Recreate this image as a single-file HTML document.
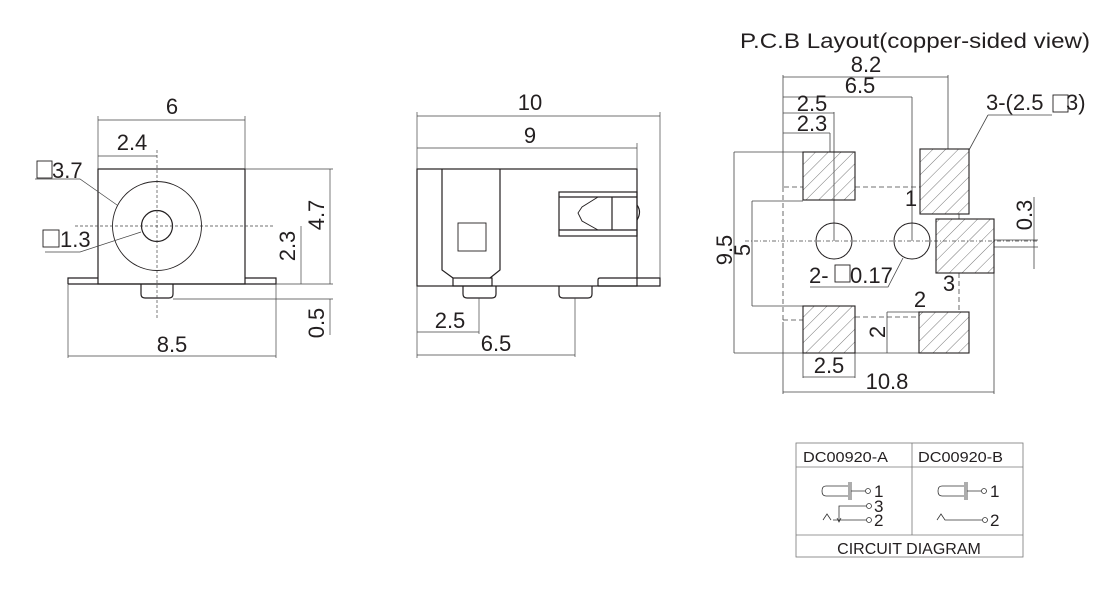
<!DOCTYPE html>
<html><head><meta charset="utf-8"><style>
html,body{margin:0;padding:0;background:#fff;}
svg{display:block;}
text{font-family:"Liberation Sans",Arial,sans-serif;fill:#231f20;}
</style></head><body>
<svg width="1120" height="590" viewBox="0 0 1120 590" xmlns="http://www.w3.org/2000/svg">
<defs>
<pattern id="h" patternUnits="userSpaceOnUse" width="9" height="9" patternTransform="rotate(45)">
<line x1="0" y1="0" x2="0" y2="9" stroke="#555" stroke-width="0.8"/>
</pattern>
</defs>
<g stroke="#231f20" fill="none" stroke-width="1.2">
<rect x="98" y="169" width="147" height="115"/>
<path d="M68 284 V278 H98 M245 278 H276 V284 H68"/>
<path d="M141 284 V294 Q141 298 145 298 H169 Q173 298 173 294 V284"/>
<circle cx="157" cy="226" r="44.5" stroke-width="0.9"/>
<circle cx="157" cy="226" r="15.5"/>
</g>
<g stroke="#444" fill="none" stroke-width="0.7">
<path d="M75 226 H275" stroke-dasharray="3,2"/>
<path d="M157 150 V318" stroke-dasharray="3,2"/>
<path d="M98 116 V169 M245 116 V169 M98 120 H245 M98 156 H157"/>
<path d="M245 169 H333 M330 169 V284 M276 284 H333 M301 226 V284 M173 299 H333 M330 299 V335 M68 284 V358 M276 284 V358 M68 356 H276"/>
<path d="M35 179 H80 L117 205 M45 252 H80 L141 232"/>
</g>
<g font-size="22">
<text x="172" y="114" text-anchor="middle">6</text>
<text x="132" y="150" text-anchor="middle">2.4</text>
<text x="52" y="178">3.7</text>
<text x="60" y="247">1.3</text>
<text x="172" y="352" text-anchor="middle">8.5</text>
<text transform="translate(324,215) rotate(-90)" text-anchor="middle">4.7</text>
<text transform="translate(295,246) rotate(-90)" text-anchor="middle">2.3</text>
<text transform="translate(324,323) rotate(-90)" text-anchor="middle">0.5</text>
</g>
<g stroke="#231f20" fill="none" stroke-width="0.9">
<rect x="37" y="161" width="15" height="17"/>
<rect x="43" y="230" width="16" height="17"/>
</g>

<g stroke="#231f20" fill="none" stroke-width="1.2">
<rect x="417" y="169" width="220" height="117"/>
<path d="M442 169 V270 L453 278 M500 169 V270 L490 278"/>
<rect x="453" y="278" width="39" height="8"/>
<rect x="458" y="223" width="28" height="28" stroke-width="0.9"/>
<rect x="559" y="192" width="78" height="44"/>
<path d="M559 197 H637 M559 230 H637 M612 197 V230"/>
<path d="M598 197 L582 207 L578 213 L582 221 L598 230" stroke-width="0.9"/>
<path d="M637 205 Q642 212 637 220"/>
<path d="M598 286 V280 Q598 278 600 278 H660 V286 H598"/>
<path d="M463 286 V294 Q463 298 467 298 H492 Q496 298 496 294 V286"/>
<path d="M559 286 V294 Q559 298 563 298 H588 Q592 298 592 294 V286"/>
</g>
<g stroke="#444" fill="none" stroke-width="0.7">
<path d="M417 112 V169 M660 112 V278 M417 116 H660 M637 143 V169 M417 148 H637"/>
<path d="M417 286 V358 M479 298 V334 M417 332 H479 M575 298 V357 M417 355 H575"/>
</g>
<g font-size="22">
<text x="530" y="110" text-anchor="middle">10</text>
<text x="530" y="143" text-anchor="middle">9</text>
<text x="450" y="328" text-anchor="middle">2.5</text>
<text x="496" y="351" text-anchor="middle">6.5</text>
</g>

<text x="740" y="48" font-size="21" textLength="350" lengthAdjust="spacingAndGlyphs">P.C.B Layout(copper-sided view)</text>
<g stroke="#444" fill="none" stroke-width="0.8">
<path d="M784 187 H803 M855 187 H920 M783 187 V322 M783 320 H803 M855 317 H919 M959 273 V312" stroke-dasharray="5,3"/>
<path d="M745 241 H1037" stroke-dasharray="4,2,1,2"/>
<path d="M959 214 V219"/>
<path d="M783 75 V187 M783 322 V394 M783 77 H948 M948 75 V149 M783 97 H912 M912 97 V241 M783 113 H834 M834 112 V241 M783 133 H830 M830 133 V152"/>
<path d="M734 152 H803 M734 353 H919 M734 152 V353 M752 201 H803 M752 306 H803 M752 201 V306"/>
<path d="M994 240 H1038 M994 247 H1038 M1034 197 V269"/>
<path d="M887 312 H919 M887 312 V353"/>
<path d="M803 353 V378 M855 353 V378 M803 377 H855 M994 273 V394 M783 392 H994"/>
<path d="M810 287 H888 L903 258 M988 115 H1052 M988 115 L969 150"/>
</g>
<g stroke="#231f20" stroke-width="1.1" fill="url(#h)">
<rect x="803" y="152" width="52" height="48"/>
<rect x="920" y="149" width="49" height="65"/>
<rect x="936" y="219" width="58" height="54"/>
<rect x="803" y="306" width="52" height="47"/>
<rect x="919" y="312" width="50" height="41"/>
</g>
<g stroke="#231f20" fill="none" stroke-width="1">
<circle cx="834" cy="241" r="18"/>
<circle cx="912" cy="241" r="18"/>
<rect x="835" y="265" width="15" height="17" stroke-width="0.9"/>
<rect x="1053" y="95" width="15" height="17" stroke-width="0.9"/>
</g>
<g font-size="22">
<text x="866" y="72" text-anchor="middle">8.2</text>
<text x="860" y="93" text-anchor="middle">6.5</text>
<text x="812" y="111" text-anchor="middle">2.5</text>
<text x="812" y="131" text-anchor="middle">2.3</text>
<text x="911" y="206" text-anchor="middle">1</text>
<text x="949" y="291" text-anchor="middle">3</text>
<text x="920" y="307" text-anchor="middle">2</text>
<text x="809" y="283">2-</text>
<text x="850" y="283">0.17</text>
<text x="986" y="110">3-(2.5</text>
<text x="1066" y="110">3)</text>
<text x="829" y="373" text-anchor="middle">2.5</text>
<text x="887" y="389" text-anchor="middle">10.8</text>
<text transform="translate(732,250) rotate(-90)" text-anchor="middle">9.5</text>
<text transform="translate(750,250) rotate(-90)" text-anchor="middle">5</text>
<text transform="translate(1032,215) rotate(-90)" text-anchor="middle">0.3</text>
<text transform="translate(885,332) rotate(-90)" text-anchor="middle">2</text>
</g>

<g stroke="#777" fill="none" stroke-width="0.8">
<rect x="796" y="443" width="227" height="114"/>
<path d="M796 467 H1023 M796 535 H1023 M912 443 V535"/>
</g>
<g stroke="#333" fill="none" stroke-width="0.8">
<path d="M848 486 H826 Q822 486 822 491 Q822 496 826 496 H848"/>
<path d="M849 482 V500 M851 482 V500 M851 491 H865"/>
<circle cx="868" cy="491" r="2.5"/>
<path d="M839 522 V506 H866"/>
<path d="M837 518 L839 522 L841 518"/>
<circle cx="869" cy="506" r="2.5"/>
<path d="M823 520 L827 514 L831 520 M833 520 H866"/>
<circle cx="869" cy="520" r="2.5"/>
<path d="M964 486 H942 Q938 486 938 491 Q938 496 942 496 H964"/>
<path d="M965 482 V500 M967 482 V500 M967 491 H981"/>
<circle cx="984" cy="491" r="2.5"/>
<path d="M937 520 L941 514 L945 520 L965 520 H982"/>
<circle cx="985" cy="520" r="2.5"/>
</g>
<g font-size="15">
<text x="803" y="462" textLength="85" lengthAdjust="spacingAndGlyphs">DC00920-A</text>
<text x="918" y="462" textLength="85" lengthAdjust="spacingAndGlyphs">DC00920-B</text>
<text x="909" y="554" text-anchor="middle" font-size="16">CIRCUIT DIAGRAM</text>
</g>
<g font-size="17">
<text x="874" y="497">1</text>
<text x="874" y="512">3</text>
<text x="874" y="526">2</text>
<text x="990" y="497">1</text>
<text x="990" y="526">2</text>
</g>
</svg>
</body></html>
